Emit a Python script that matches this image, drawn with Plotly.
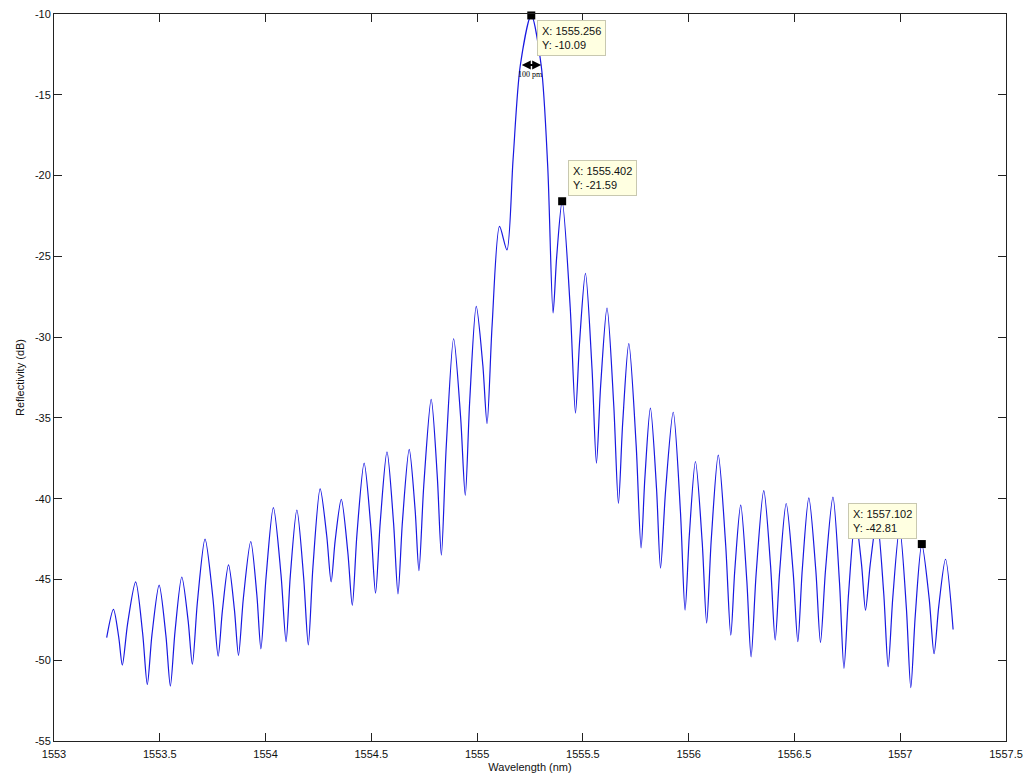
import plotly.graph_objects as go

# ---- data (peaks, valleys and mid-flank points) ----
wavelength_nm = [
    1553.249, 1553.281, 1553.306, 1553.323, 1553.348, 1553.386, 1553.419, 1553.441,
    1553.463, 1553.497, 1553.529, 1553.550, 1553.572, 1553.604, 1553.634, 1553.654,
    1553.678, 1553.714, 1553.751, 1553.776, 1553.796, 1553.825, 1553.853, 1553.872,
    1553.895, 1553.930, 1553.959, 1553.978, 1554.002, 1554.037, 1554.073, 1554.097,
    1554.117, 1554.148, 1554.180, 1554.202, 1554.224, 1554.258, 1554.289, 1554.310,
    1554.329, 1554.358, 1554.389, 1554.410, 1554.432, 1554.466, 1554.498, 1554.520,
    1554.542, 1554.574, 1554.605, 1554.626, 1554.647, 1554.679, 1554.707, 1554.725,
    1554.748, 1554.783, 1554.812, 1554.831, 1554.854, 1554.889, 1554.922, 1554.944,
    1554.965, 1554.996, 1555.027, 1555.047, 1555.071, 1555.106, 1555.141, 1555.170,
    1555.204, 1555.256, 1555.303, 1555.334, 1555.359, 1555.376, 1555.402, 1555.440,
    1555.465, 1555.484, 1555.512, 1555.543, 1555.564, 1555.584, 1555.614, 1555.646,
    1555.668, 1555.688, 1555.717, 1555.752, 1555.775, 1555.793, 1555.819, 1555.848,
    1555.867, 1555.891, 1555.927, 1555.961, 1555.983, 1556.003, 1556.032, 1556.064,
    1556.085, 1556.107, 1556.140, 1556.175, 1556.199, 1556.218, 1556.246, 1556.275,
    1556.295, 1556.319, 1556.355, 1556.387, 1556.409, 1556.430, 1556.461, 1556.494,
    1556.516, 1556.537, 1556.568, 1556.601, 1556.623, 1556.647, 1556.682, 1556.713,
    1556.734, 1556.756, 1556.788, 1556.817, 1556.836, 1556.858, 1556.890, 1556.922,
    1556.943, 1556.965, 1556.997, 1557.029, 1557.050, 1557.071, 1557.102, 1557.137,
    1557.160, 1557.182, 1557.214, 1557.250,
]
reflectivity_db = [
    -48.6, -46.85, -48.58, -50.3, -47.73, -45.15, -48.33, -51.5,
    -48.43, -45.35, -48.48, -51.6, -48.23, -44.85, -47.55, -50.25,
    -46.38, -42.5, -46.13, -49.75, -46.93, -44.1, -46.9, -49.7,
    -46.18, -42.65, -45.98, -49.3, -44.93, -40.55, -44.7, -48.85,
    -44.78, -40.7, -44.88, -49.05, -44.23, -39.4, -42.28, -45.15,
    -42.6, -40.05, -43.33, -46.6, -42.2, -37.8, -41.83, -45.85,
    -41.48, -37.1, -41.5, -45.9, -41.43, -36.95, -40.7, -44.45,
    -39.15, -33.85, -38.68, -43.5, -36.8, -30.1, -34.95, -39.8,
    -33.95, -28.1, -31.73, -35.35, -29.25, -23.15, -24.6, -19.0,
    -13.2, -10.09, -13.2, -19.5, -28.5, -25.05, -21.59, -28.15,
    -34.7, -30.38, -26.05, -31.93, -37.8, -33.0, -28.2, -34.25,
    -40.3, -35.35, -30.4, -36.73, -43.05, -38.73, -34.4, -39.35,
    -44.3, -39.48, -34.65, -40.78, -46.9, -42.3, -37.7, -42.7,
    -47.7, -42.5, -37.3, -42.88, -48.45, -44.43, -40.4, -45.1,
    -49.8, -44.65, -39.5, -44.13, -48.75, -44.53, -40.3, -44.58,
    -48.85, -44.4, -39.95, -44.43, -48.9, -44.4, -39.9, -45.2,
    -50.5, -45.85, -41.2, -44.05, -46.9, -44.1, -41.3, -45.85,
    -50.4, -46.1, -41.8, -46.75, -51.7, -47.26, -42.81, -46.2,
    -49.6, -46.68, -43.75, -48.1,
]

# data tips
tip_x = [1555.256, 1555.402, 1557.102]
tip_y = [-10.09, -21.59, -42.81]
tip_text = ["X: 1555.256<br>Y: -10.09", "X: 1555.402<br>Y: -21.59", "X: 1557.102<br>Y: -42.81"]

# bandwidth marker
bw_left, bw_right, bw_level = 1555.204, 1555.303, -13.16
bw_label = "100 pm"

x_ticks = [1553, 1553.5, 1554, 1554.5, 1555, 1555.5, 1556, 1556.5, 1557, 1557.5]
x_ticklabels = ["1553", "1553.5", "1554", "1554.5", "1555", "1555.5", "1556", "1556.5", "1557", "1557.5"]
y_ticks = [-55, -50, -45, -40, -35, -30, -25, -20, -15, -10]
y_ticklabels = ["-55", "-50", "-45", "-40", "-35", "-30", "-25", "-20", "-15", "-10"]

FONT = "Liberation Sans, Arial, sans-serif"
AXC = "#222222"

fig = go.Figure()
fig.add_trace(go.Scatter(
    x=wavelength_nm, y=reflectivity_db, mode="lines",
    line=dict(color="rgb(25,25,225)", width=1.2, shape="spline", smoothing=0.8),
    hoverinfo="skip", showlegend=False,
))
fig.add_trace(go.Scatter(
    x=tip_x, y=tip_y, mode="markers",
    marker=dict(symbol="square", size=8, color="black"),
    hoverinfo="skip", showlegend=False, cliponaxis=False,
))

# data tip boxes
placements = [
    dict(xanchor="left", yanchor="top", xshift=6, yshift=-5),
    dict(xanchor="left", yanchor="bottom", xshift=6, yshift=5),
    dict(xanchor="right", yanchor="bottom", xshift=-5, yshift=5),
]
for xv, yv, t, p in zip(tip_x, tip_y, tip_text, placements):
    fig.add_annotation(
        x=xv, y=yv, text=t, showarrow=False, align="left",
        font=dict(family=FONT, size=11, color="#111111"),
        bgcolor="#FFFFE1", bordercolor="#C8C8B0", borderwidth=1, borderpad=4,
        **p,
    )

# double-headed arrow for bandwidth
fig.add_annotation(
    x=bw_right, y=bw_level, ax=bw_left, ay=bw_level, axref="x", ayref="y",
    xref="x", yref="y", text="", showarrow=True,
    arrowhead=2, arrowsize=0.9, arrowwidth=2, arrowside="end+start",
    arrowcolor="black", standoff=0, startstandoff=0,
)
fig.add_annotation(
    x=(bw_left + bw_right) / 2, y=bw_level, text=bw_label, showarrow=False,
    yanchor="top", yshift=-3,
    font=dict(family="Liberation Serif, Times New Roman, serif", size=8, color="black"),
)

axis_common = dict(
    showgrid=False, zeroline=False, showline=True, linecolor=AXC, linewidth=1,
    mirror="ticks", ticks="inside", ticklen=8, tickcolor=AXC, tickwidth=1,
    tickfont=dict(family=FONT, size=11, color="#111111"), automargin=False,
)

fig.update_xaxes(
    range=[1553, 1557.5], tickmode="array", tickvals=x_ticks, ticktext=x_ticklabels,
    ticklabelstandoff=3,
    title=dict(text="Wavelength (nm)", font=dict(family=FONT, size=11, color="#111111"), standoff=4),
    **axis_common,
)
fig.update_yaxes(
    range=[-55, -10], tickmode="array", tickvals=y_ticks, ticktext=y_ticklabels,
    title=dict(text="Reflectivity (dB)", font=dict(family=FONT, size=11, color="#111111"), standoff=8),
    **axis_common,
)

fig.update_layout(
    width=1031, height=775, autosize=False,
    margin=dict(l=54, r=25, t=14, b=34, pad=0),
    paper_bgcolor="white", plot_bgcolor="white",
    showlegend=False,
)

fig.write_html("out.html")
